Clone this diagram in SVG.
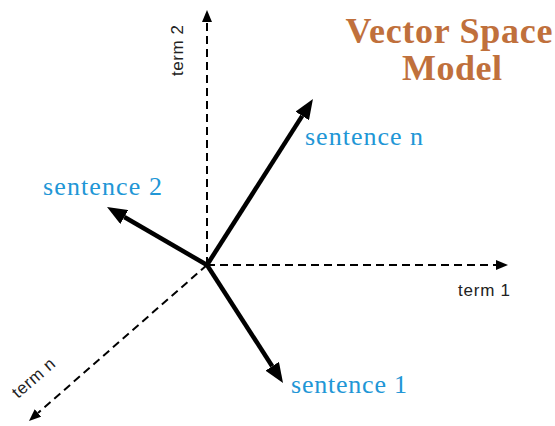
<svg xmlns="http://www.w3.org/2000/svg" width="555" height="426" viewBox="0 0 555 426">
<style>
.axis{stroke:#000;stroke-width:2;stroke-dasharray:8 5;fill:none}
.vec{stroke:#000;stroke-width:4.5;fill:none}
.term{font-family:"Liberation Sans",Arial,sans-serif;font-size:17px;fill:#222}
.sent{font-family:"Liberation Serif",serif;font-size:26px;fill:#2196D6}
.title{font-family:"Liberation Serif",serif;font-size:36px;font-weight:bold;fill:#C0703C;text-anchor:middle}
</style>
<defs>
<marker id="ah" markerUnits="userSpaceOnUse" markerWidth="12" markerHeight="10" refX="0" refY="5" orient="auto"><path d="M0,0 L12,5 L0,10 z" fill="#000"/></marker>
<marker id="vh" markerUnits="userSpaceOnUse" markerWidth="20" markerHeight="16" refX="0" refY="8" orient="auto"><path d="M0,0 L20,8 L0,16 z" fill="#000"/></marker>
</defs>
<g id="connectors">
<line class="axis" x1="207" y1="265" x2="207" y2="22" marker-end="url(#ah)"/>
<line class="axis" x1="207" y1="265" x2="496" y2="265" marker-end="url(#ah)"/>
<line class="axis" x1="207" y1="265" x2="38" y2="413" marker-end="url(#ah)"/>
<line class="vec" x1="207" y1="265" x2="302.2" y2="115.9" marker-end="url(#vh)"/>
<line class="vec" x1="207" y1="265" x2="124.3" y2="217" marker-end="url(#vh)"/>
<line class="vec" x1="207" y1="265" x2="272.2" y2="366.2" marker-end="url(#vh)"/>
</g>
<g id="term1"><text class="term" x="458" y="296" textLength="52">term 1</text></g>
<g id="term2"><text class="term" transform="translate(183,76) rotate(-90)" textLength="51">term 2</text></g>
<g id="termn"><text class="term" transform="translate(18,399) rotate(-41)" textLength="51">term n</text></g>
<g id="sentence1"><text class="sent" x="291" y="393" textLength="116">sentence 1</text></g>
<g id="sentence2"><text class="sent" x="43" y="195" textLength="119">sentence 2</text></g>
<g id="sentencen"><text class="sent" x="305" y="145" textLength="118">sentence n</text></g>
<g id="title">
<text class="title" x="449" y="43" textLength="207">Vector Space</text>
<text class="title" x="452" y="80" textLength="100">Model</text>
</g>
</svg>
